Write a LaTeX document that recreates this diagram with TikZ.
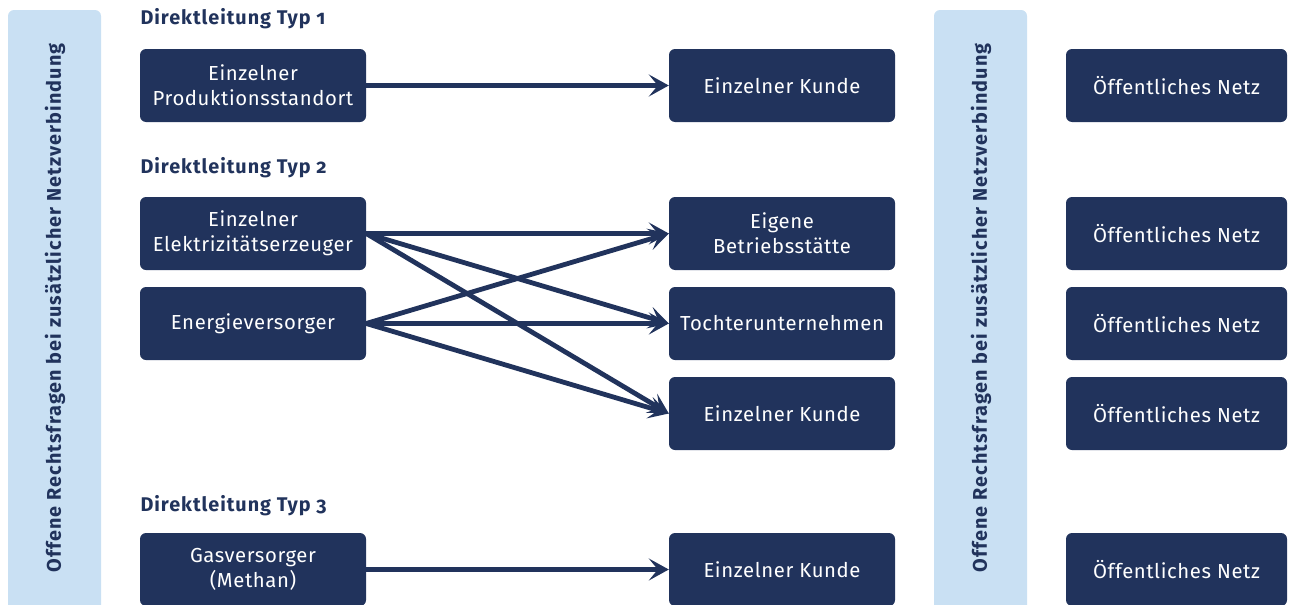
\documentclass[tikz,border=0pt]{standalone}
\usepackage{fontspec}
\setmainfont[Numbers=OldStyle]{Fira Sans}
\usetikzlibrary{arrows.meta}
\definecolor{navy}{RGB}{33,51,92}
\definecolor{lightblue}{RGB}{201,224,243}
\tikzset{
  box/.style={fill=navy, rounded corners=6pt, text=white, align=center,
    minimum height=73pt, inner sep=0pt, font=\fontsize{20.3}{25}\selectfont\addfontfeature{LetterSpace=3}},
  lbox/.style={box, minimum width=226pt},
  mbox/.style={box, minimum width=226pt},
  rbox/.style={box, minimum width=221pt},
  side/.style={fill=lightblue, rounded corners=6pt},
  sidetext/.style={rotate=90, text=navy, font=\bfseries\fontsize{19.8}{22}\selectfont\addfontfeature{LetterSpace=5.5}},
  title/.style={anchor=west, text=navy, font=\bfseries\fontsize{19.8}{22}\selectfont\addfontfeature{LetterSpace=5}},
  conn/.style={draw=navy, line width=4.8pt, -{Stealth[length=20pt, width=22pt, inset=9pt]}},
}
\begin{document}
\begin{tikzpicture}[x=1pt, y=-1pt]
\clip (0,0) rectangle (1293,605);
\useasboundingbox (0,0) rectangle (1293,605);
% sidebars
\node[side, minimum width=93pt, minimum height=610pt, inner sep=0pt] (sideL) at (54.5,315) {};
\node[side, minimum width=93pt, minimum height=610pt, inner sep=0pt] (sideR) at (980.5,315) {};
\node[sidetext] (sideLt) at (55,308) {Offene Rechtsfragen bei zusätzlicher Netzverbindung};
\node[sidetext] (sideRt) at (981,308) {Offene Rechtsfragen bei zusätzlicher Netzverbindung};
% titles
\node[title] (t1) at (137,19) {Direktleitung Typ 1};
\node[title] (t2) at (137,168) {Direktleitung Typ 2};
\node[title] (t3) at (137,506) {Direktleitung Typ 3};
% left boxes
\node[lbox] (prod) at (253,85.5) {Einzelner\\Produktionsstandort};
\node[lbox] (elek) at (253,233.5) {Einzelner\\Elektrizitätserzeuger};
\node[lbox] (ener) at (253,323.5) {Energieversorger};
\node[lbox] (gas) at (253,569.5) {Gasversorger\\(Methan)};
% middle boxes
\node[mbox] (k1) at (782,85.5) {Einzelner Kunde};
\node[mbox] (eig) at (782,233.5) {Eigene\\Betriebsstätte};
\node[mbox] (toch) at (782,323.5) {Tochterunternehmen};
\node[mbox] (k2) at (782,413.5) {Einzelner Kunde};
\node[mbox] (k3) at (782,569.5) {Einzelner Kunde};
% right boxes
\node[rbox] (n1) at (1176.5,85.5) {Öffentliches Netz};
\node[rbox] (n2) at (1176.5,233.5) {Öffentliches Netz};
\node[rbox] (n3) at (1176.5,323.5) {Öffentliches Netz};
\node[rbox] (n4) at (1176.5,413.5) {Öffentliches Netz};
\node[rbox] (n5) at (1176.5,569.5) {Öffentliches Netz};
% connectors
\draw[conn] (prod.east) -- (k1.west);
\draw[conn] (elek.east) -- (eig.west);
\draw[conn] (elek.east) -- (toch.west);
\draw[conn] (elek.east) -- (k2.west);
\draw[conn] (ener.east) -- (eig.west);
\draw[conn] (ener.east) -- (toch.west);
\draw[conn] (ener.east) -- (k2.west);
\draw[conn] (gas.east) -- (k3.west);
\end{tikzpicture}
\end{document}
